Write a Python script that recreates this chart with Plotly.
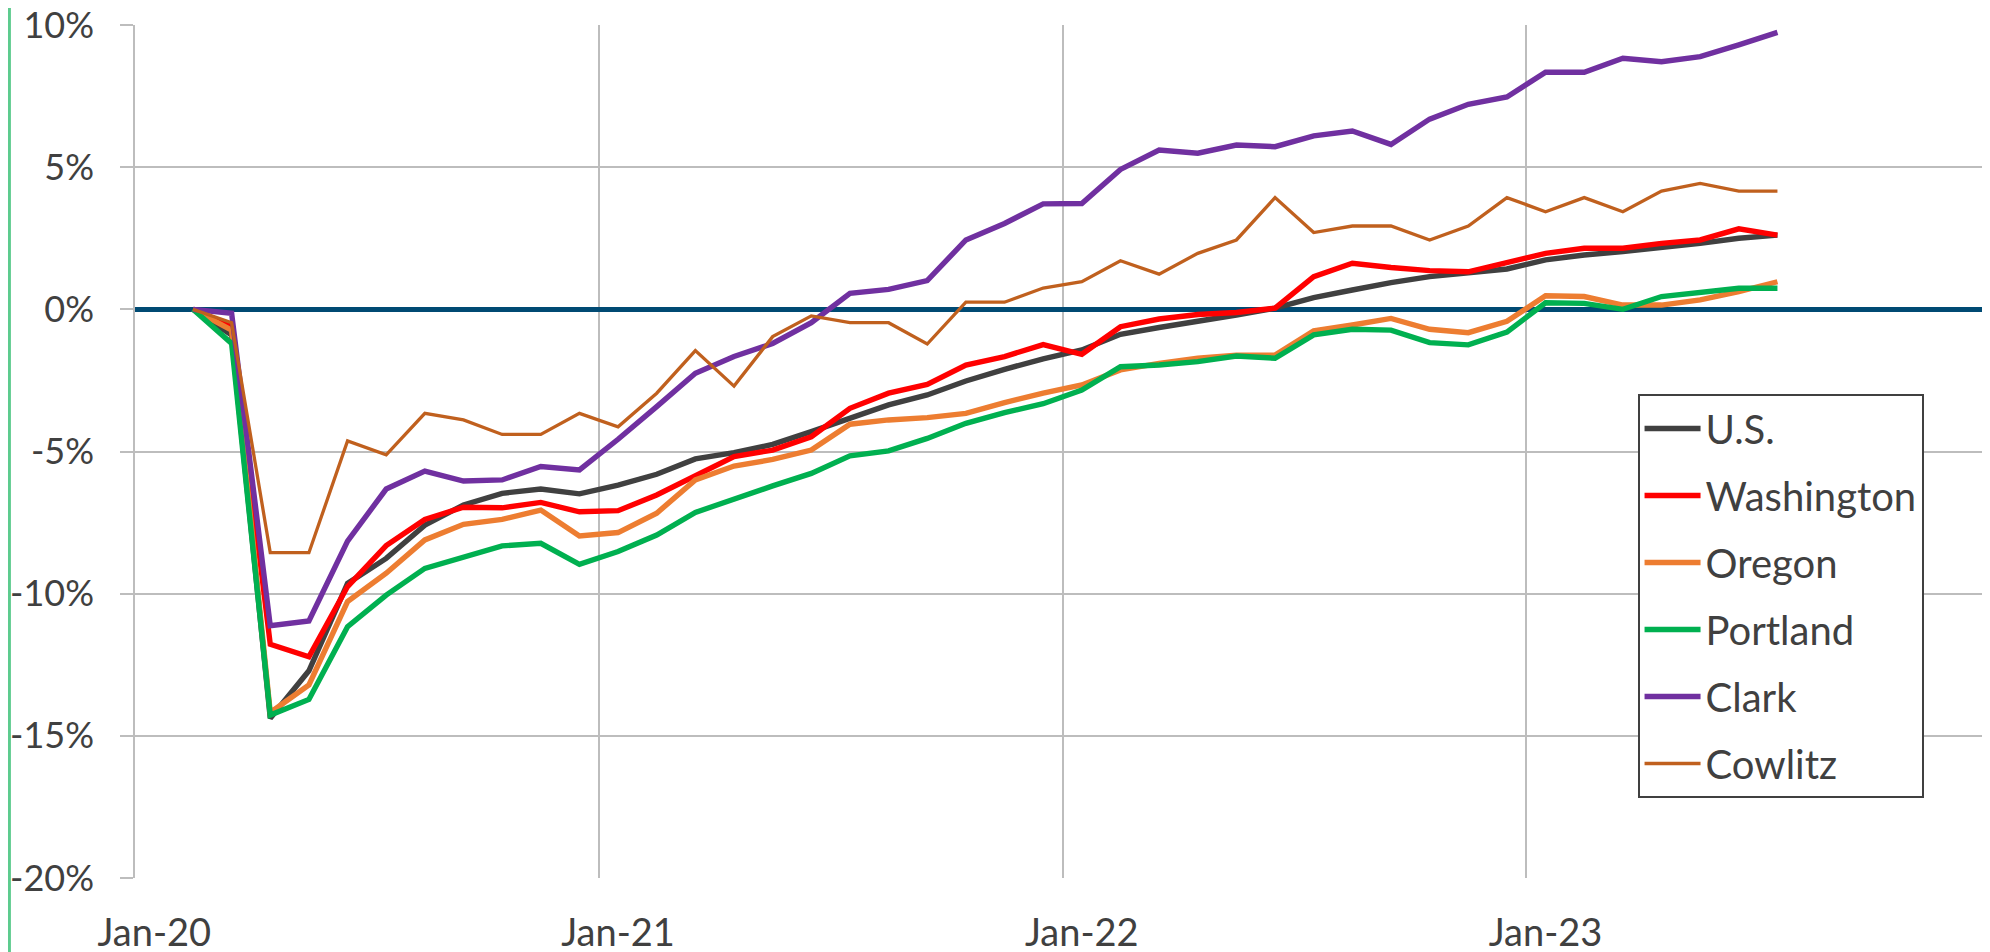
import plotly.graph_objects as go

# ---------------- data ----------------
all_months = [f"{m}-{y}" for y in ["20", "21", "22", "23"]
              for m in ["Jan", "Feb", "Mar", "Apr", "May", "Jun",
                        "Jul", "Aug", "Sep", "Oct", "Nov", "Dec"]]
data_months = all_months[1:43]  # Feb-20 .. Jul-23

us = [0, -0.9, -14.38, -12.71, -9.64, -8.76, -7.59, -6.88, -6.47, -6.32, -6.49,
      -6.18, -5.80, -5.26, -5.04, -4.75, -4.30, -3.83, -3.36, -3.01, -2.52, -2.11, -1.74,
      -1.43, -0.88, -0.64, -0.43, -0.20, 0.04, 0.41, 0.68, 0.94, 1.15, 1.29, 1.42,
      1.74, 1.91, 2.03, 2.17, 2.32, 2.50, 2.61]
washington = [0, -0.6, -11.78, -12.22, -9.75, -8.31, -7.39, -6.96, -6.98, -6.79, -7.12,
              -7.08, -6.53, -5.83, -5.18, -4.95, -4.48, -3.48, -2.95, -2.64, -1.96, -1.66, -1.24,
              -1.58, -0.61, -0.34, -0.18, -0.11, 0.04, 1.15, 1.62, 1.47, 1.36, 1.32, 1.63,
              1.97, 2.15, 2.15, 2.32, 2.44, 2.83, 2.61]
oregon = [0, -0.73, -14.18, -13.21, -10.28, -9.28, -8.11, -7.56, -7.39, -7.06, -7.97,
          -7.85, -7.17, -6.0, -5.51, -5.28, -4.95, -4.04, -3.89, -3.81, -3.66, -3.28, -2.95,
          -2.66, -2.13, -1.90, -1.72, -1.61, -1.61, -0.76, -0.55, -0.32, -0.70, -0.82, -0.42,
          0.48, 0.45, 0.15, 0.15, 0.33, 0.62, 0.97]
portland = [0, -1.2, -14.27, -13.72, -11.16, -10.05, -9.11, -8.70, -8.32, -8.23, -8.97,
            -8.52, -7.94, -7.14, -6.65, -6.21, -5.77, -5.15, -4.98, -4.54, -4.01, -3.63, -3.32,
            -2.84, -2.02, -1.96, -1.84, -1.64, -1.72, -0.90, -0.70, -0.73, -1.17, -1.25, -0.80,
            0.23, 0.21, 0.0, 0.45, 0.59, 0.74, 0.74]
clark = [0, -0.14, -11.13, -10.96, -8.15, -6.32, -5.69, -6.04, -6.0, -5.53, -5.65,
         -4.57, -3.42, -2.25, -1.66, -1.20, -0.47, 0.56, 0.70, 1.01, 2.44, 3.02, 3.71,
         3.72, 4.92, 5.60, 5.49, 5.78, 5.72, 6.10, 6.27, 5.80, 6.69, 7.21, 7.47,
         8.34, 8.34, 8.83, 8.71, 8.89, 9.30, 9.74]
cowlitz = [0, -0.47, -8.56, -8.56, -4.63, -5.12, -3.66, -3.89, -4.40, -4.40, -3.66,
           -4.13, -2.95, -1.45, -2.70, -0.96, -0.23, -0.47, -0.47, -1.22, 0.25, 0.25, 0.75,
           0.97, 1.71, 1.24, 1.97, 2.44, 3.93, 2.70, 2.93, 2.93, 2.44, 2.93, 3.93,
           3.43, 3.93, 3.43, 4.16, 4.43, 4.16, 4.16]

series_names = ["U.S.", "Washington", "Oregon", "Portland", "Clark", "Cowlitz"]
series_values = [us, washington, oregon, portland, clark, cowlitz]

x_tick_labels = ["Jan-20", "Jan-21", "Jan-22", "Jan-23"]
y_tick_values = [-20, -15, -10, -5, 0, 5, 10]
y_tick_labels = ["-20%", "-15%", "-10%", "-5%", "0%", "5%", "10%"]

# ---------------- styles ----------------
colors = ["#404040", "#FF0000", "#ED7D31", "#00B050", "#7030A0", "#C0601E"]
widths = [5.4, 5.4, 5.4, 5.4, 5.4, 3.3]
text_color = "#404040"
grid_color = "#BDBDBD"

# category positions (Excel-like category axis: one slot per month)
data_x = [all_months.index(m) for m in data_months]
major_idx = [all_months.index(l) for l in x_tick_labels]
boundary_idx = [i - 0.5 for i in major_idx[1:]]

fig = go.Figure()
for name, vals, c, w in zip(series_names, series_values, colors, widths):
    fig.add_trace(go.Scatter(
        x=data_x, y=vals, mode="lines", name=name, legendgroup=name,
        line=dict(color=c, width=w),
        customdata=data_months, hovertemplate="%{customdata}: %{y:.1f}%<extra>" + name + "</extra>",
    ))

# page body has an 8px default margin -> figure is offset by 8px
fig.update_layout(
    width=1982, height=944,
    margin=dict(l=127, r=0, t=17, b=74),
    paper_bgcolor="white", plot_bgcolor="white",
    font=dict(family="Lato", color=text_color, size=36),
    showlegend=True,
    legend=dict(
        x=0.810, y=0.5674, xanchor="left", yanchor="top",
        bordercolor="#404040", borderwidth=2, bgcolor="white",
        font=dict(family="Lato", size=40, color=text_color),
        tracegroupgap=12, itemwidth=56,
    ),
    shapes=[dict(type="line", xref="paper", yref="paper",
                 x0=-0.0677, x1=-0.0677, y0=-0.15, y1=1.1,
                 line=dict(color="#5DCB8E", width=3))],
)

fig.update_xaxes(
    type="linear", range=[-0.5, len(all_months) - 0.5],
    tickmode="array", tickvals=major_idx, ticktext=x_tick_labels, tickangle=0,
    showgrid=False, ticks="", showline=False, zeroline=False,
    minor=dict(tickmode="array", tickvals=boundary_idx, showgrid=True,
               gridcolor=grid_color, gridwidth=1.5, ticks=""),
    tickfont=dict(family="Lato", size=38, color=text_color),
    ticklabelstandoff=29, automargin=False, ticklabeloverflow="allow",
)
fig.update_yaxes(
    range=[-20, 10], tickmode="array", tickvals=y_tick_values, ticktext=y_tick_labels,
    showgrid=True, gridcolor=grid_color, gridwidth=1.5,
    showline=True, linecolor=grid_color, linewidth=1.5,
    ticks="outside", ticklen=13, tickcolor=grid_color, tickwidth=1.5,
    zeroline=True, zerolinecolor="#004A73", zerolinewidth=4.5,
    tickfont=dict(family="Lato", size=36, color=text_color),
    ticklabelstandoff=19, automargin=False, ticklabeloverflow="allow",
)

fig.write_html("out.html")
